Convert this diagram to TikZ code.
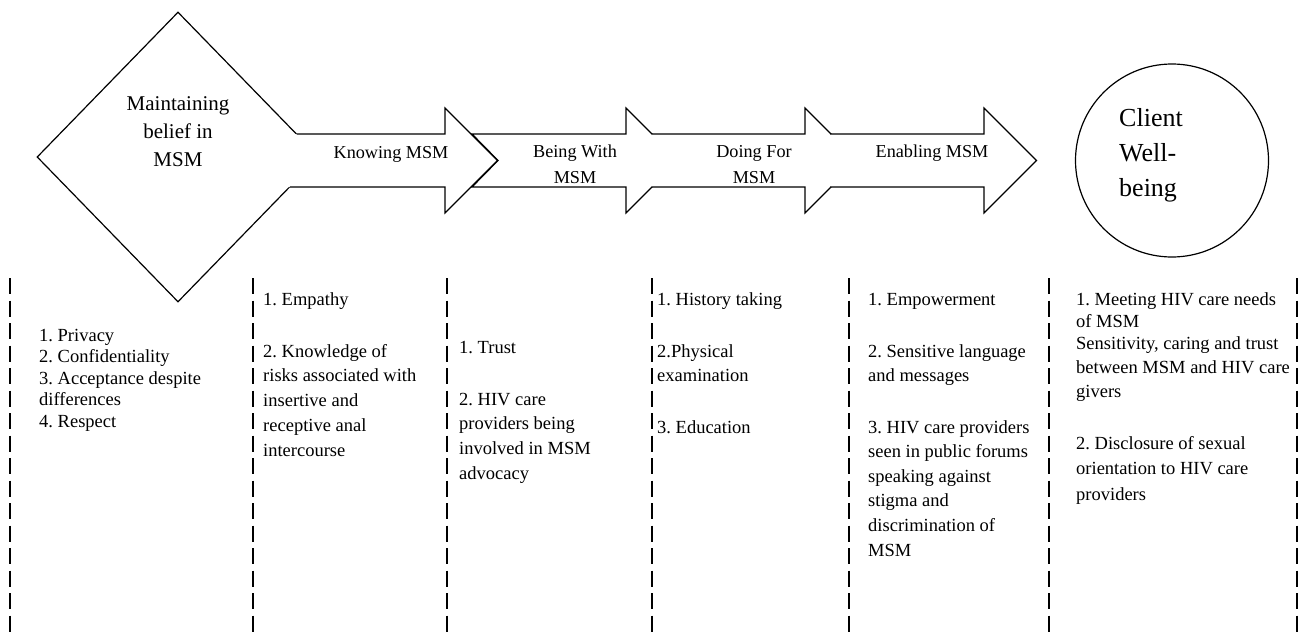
\documentclass[tikz,border=0pt]{standalone}
\usepackage{fontspec}
\setmainfont{Liberation Serif}
\usetikzlibrary{shapes.geometric}
\frenchspacing
\tikzset{
  outl/.style={line width=1.2pt, line join=miter},
  txt/.style={inner sep=0pt, anchor=base west, font=\fontsize{18.5}{20}\selectfont},
  lbl/.style={inner sep=0pt, anchor=base, font=\fontsize{18.2}{20}\selectfont},
  dtxt/.style={inner sep=0pt, anchor=base, font=\fontsize{21}{24}\selectfont},
  ctxt/.style={inner sep=0pt, anchor=base west, font=\fontsize{26}{30}\selectfont},
  divider/.style={line width=2pt, dash pattern=on 16pt off 6.5pt},
}
\newcommand\mypara[5]{\foreach \ln [count=\k] in {#5} {\node[txt] (#1-\k) at (#2,{#3+(\k-1)*#4}) {\ln};}}
\begin{document}
\frenchspacing
\begin{tikzpicture}[x=1pt,y=-1pt]
\useasboundingbox (0,0) rectangle (1299,637);
% diamond
\node[diamond, draw, outl, fill=white, minimum width=282pt, minimum height=290pt, inner sep=0pt] (dia) at (178,157) {};
% arrow 2 (notched)
\filldraw[outl, fill=white] (472,134) -- (626,134) -- (626,108) -- (678.5,160.5) -- (626,213) -- (626,187) -- (472,187) -- (498,160.5) -- cycle;
% arrow 3
\fill[white] (652,134) -- (805,134) -- (805,108) -- (857.5,160.5) -- (805,213) -- (805,187) -- (652,187) -- cycle;
\draw[outl] (652,134) -- (805,134) -- (805,108) -- (857.5,160.5) -- (805,213) -- (805,187) -- (652,187);
% arrow 4
\fill[white] (830,134) -- (984,134) -- (984,108) -- (1036.5,160.5) -- (984,213) -- (984,187) -- (830,187) -- cycle;
\draw[outl] (830,134) -- (984,134) -- (984,108) -- (1036.5,160.5) -- (984,213) -- (984,187) -- (830,187);
% arrow 1
\fill[white] (285,134) -- (445,134) -- (445,108) -- (497.5,160.5) -- (445,213) -- (445,187) -- (285,187) -- cycle;
\draw[outl] (296.6,134) -- (445,134) -- (445,108) -- (497.5,160.5) -- (445,213) -- (445,187) -- (289.8,187);
% circle
\node[circle, draw, outl, minimum size=193pt, inner sep=0pt] (cw) at (1172,160.5) {};
% diamond text
\node[dtxt] (d1) at (178,110) {Maintaining};
\node[dtxt] (d2) at (178,138) {belief in};
\node[dtxt] (d3) at (178,166) {MSM};
% circle text
\node[ctxt] (w1) at (1119,126) {Client};
\node[ctxt] (w2) at (1119,161) {Well-};
\node[ctxt] (w3) at (1119,196) {being};
% arrow labels
\node[lbl] (k1) at (391,158) {Knowing MSM};
\node[lbl] (b1) at (575,157) {Being With};
\node[lbl] (b2) at (575,183) {MSM};
\node[lbl] (f1) at (754,157) {Doing For};
\node[lbl] (f2) at (754,183) {MSM};
\node[lbl] (e1) at (932,157) {Enabling MSM};
% dividers
\foreach \xx in {10,253,447,652,849,1049,1297} \draw[divider] (\xx,278) -- (\xx,637);
% column texts
\mypara{c1}{39}{341}{21.5}{1. Privacy, 2. Confidentiality, 3. Acceptance despite, differences, 4. Respect}
\mypara{c2a}{263}{305}{0}{1. Empathy}
\mypara{c2b}{263}{357}{24.75}{2. Knowledge of, risks associated with, insertive and, receptive anal, intercourse}
\mypara{c3a}{459}{353}{0}{1. Trust}
\mypara{c3b}{459}{405}{24.7}{2. HIV care, providers being, involved in MSM, advocacy}
\mypara{c4a}{657}{305}{0}{1. History taking}
\mypara{c4b}{657}{357}{24}{2.Physical, examination}
\mypara{c4c}{657}{433}{0}{3. Education}
\mypara{c5a}{868}{305}{0}{1. Empowerment}
\mypara{c5b}{868}{357}{24}{2. Sensitive language, and messages}
\mypara{c5c}{868}{433}{24.6}{3. HIV care providers, seen in public forums, speaking against, stigma and, discrimination of, MSM}
\mypara{c6a}{1076}{305}{22}{1. Meeting HIV care needs, of MSM, {Sensitivity, caring and trust}}
\mypara{c6b}{1076}{373}{24.5}{between MSM and HIV care, givers}
\mypara{c6c}{1076}{449}{25.5}{2. Disclosure of sexual, orientation to HIV care, providers}
\end{tikzpicture}
\end{document}
